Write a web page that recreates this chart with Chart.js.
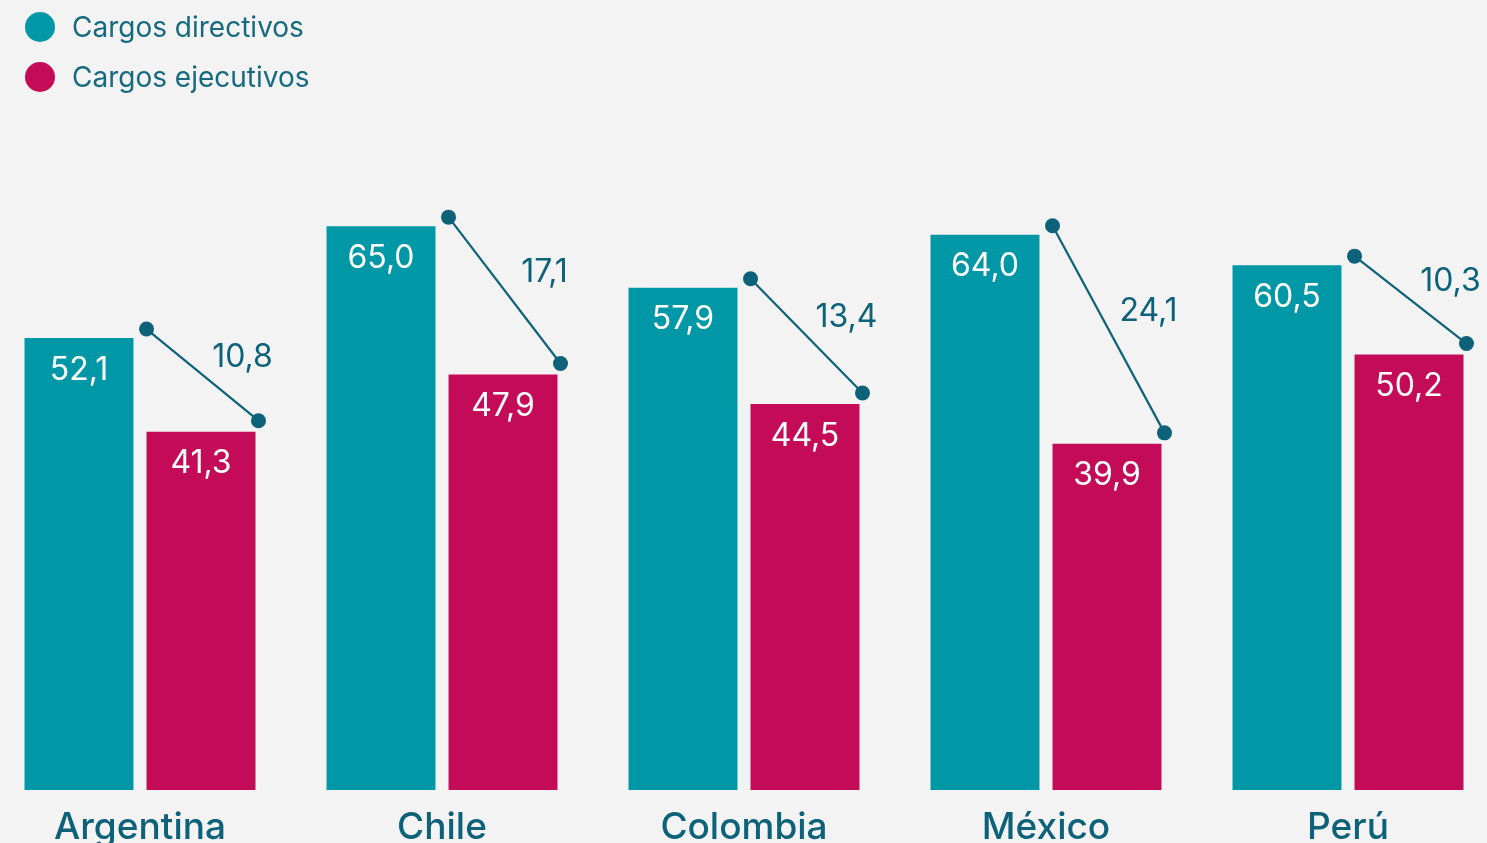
<!DOCTYPE html>
<html lang="es">
<head>
<meta charset="utf-8">
<title>Cargos directivos y ejecutivos</title>
<script src="https://cdn.jsdelivr.net/npm/chart.js@4.4.1/dist/chart.umd.min.js"></script>
<style>
  html, body { margin: 0; padding: 0; background: #f3f3f3; overflow: hidden; }
  body { width: 1487px; height: 843px; position: relative; font-family: "Inter", "Open Sans", sans-serif; }
  #wrap { position: absolute; left: -11px; top: 0; width: 1510px; height: 843px; }
  .legend { position: absolute; left: 25px; top: 2px; z-index: 2; }
  .legend .item { display: flex; align-items: center; height: 50px; font-size: 28px; color: #176a7e; font-weight: 400; }
  .legend .dot { width: 30px; height: 30px; border-radius: 50%; margin-right: 17px; }
</style>
</head>
<body>
<div class="legend">
  <div class="item"><span class="dot" style="background:#0098a6"></span>Cargos directivos</div>
  <div class="item"><span class="dot" style="background:#c40b58"></span>Cargos ejecutivos</div>
</div>
<div id="wrap"><canvas id="c"></canvas></div>
<script>
const categories = ['Argentina', 'Chile', 'Colombia', 'México', 'Perú'];
const directivos = [52.1, 65.0, 57.9, 64.0, 60.5];
const ejecutivos = [41.3, 47.9, 44.5, 39.9, 50.2];
const brechas = [10.8, 17.1, 13.4, 24.1, 10.3];

const TEAL = '#0098a6';
const MAGENTA = '#c40b58';
const INK = '#0d6178';
const FONT = '"Inter", "Open Sans", sans-serif';

const fmt = v => v.toFixed(1).replace('.', ',');

// value labels inside the top of each bar
const barLabels = {
  id: 'barLabels',
  afterDatasetsDraw(chart) {
    const ctx = chart.ctx;
    ctx.save();
    ctx.fillStyle = '#ffffff';
    ctx.font = '400 32px ' + FONT;
    ctx.textAlign = 'center';
    ctx.textBaseline = 'middle';
    chart.data.datasets.forEach((ds, di) => {
      chart.getDatasetMeta(di).data.forEach((bar, i) => {
        ctx.fillText(fmt(ds.data[i]), bar.x, bar.y + 32);
      });
    });
    ctx.restore();
  }
};

// gap connector between the two bars of each country
const gapLines = {
  id: 'gapLines',
  afterDatasetsDraw(chart) {
    const ctx = chart.ctx;
    const y = chart.scales.y;
    const exec = chart.getDatasetMeta(1).data;
    ctx.save();
    exec.forEach((bar, i) => {
      const x1 = bar.x - bar.width / 2;
      const x2 = bar.x + bar.width / 2 + 3;
      const y1 = y.getPixelForValue(directivos[i]) - 9;
      const y2 = y.getPixelForValue(ejecutivos[i]) - 11;
      ctx.strokeStyle = INK;
      ctx.lineWidth = 2.2;
      ctx.beginPath();
      ctx.moveTo(x1, y1);
      ctx.lineTo(x2, y2);
      ctx.stroke();
      ctx.fillStyle = INK;
      [[x1, y1], [x2, y2]].forEach(([px, py]) => {
        ctx.beginPath();
        ctx.arc(px, py, 7.5, 0, Math.PI * 2);
        ctx.fill();
      });
      ctx.font = '400 32px ' + FONT;
      ctx.textAlign = 'center';
      ctx.textBaseline = 'middle';
      ctx.fillText(fmt(brechas[i]), bar.x + bar.width / 2 - 13, (y1 + y2) / 2 - 18);
    });
    ctx.restore();
  }
};

// country names under the axis
const countryLabels = {
  id: 'countryLabels',
  afterDraw(chart) {
    const ctx = chart.ctx;
    const x = chart.scales.x;
    ctx.save();
    ctx.fillStyle = INK;
    ctx.font = '500 37px ' + FONT;
    ctx.textAlign = 'center';
    ctx.textBaseline = 'middle';
    categories.forEach((c, i) => {
      ctx.fillText(c, x.getPixelForValue(i), chart.chartArea.bottom + 38);
    });
    ctx.restore();
  }
};

new Chart(document.getElementById('c'), {
  type: 'bar',
  data: {
    labels: categories,
    datasets: [
      { label: 'Cargos directivos', data: directivos, backgroundColor: TEAL },
      { label: 'Cargos ejecutivos', data: ejecutivos, backgroundColor: MAGENTA }
    ]
  },
  options: {
    responsive: true,
    maintainAspectRatio: false,
    animation: false,
    categoryPercentage: 0.808,
    barPercentage: 0.893,
    layout: { padding: { top: 96, bottom: 53, left: 0, right: 0 } },
    plugins: { legend: { display: false }, tooltip: { enabled: false } },
    scales: {
      x: { display: false, grid: { display: false } },
      y: { display: false, min: 0, max: 80, grid: { display: false } }
    }
  },
  plugins: [barLabels, gapLines, countryLabels]
});
</script>
</body>
</html>
